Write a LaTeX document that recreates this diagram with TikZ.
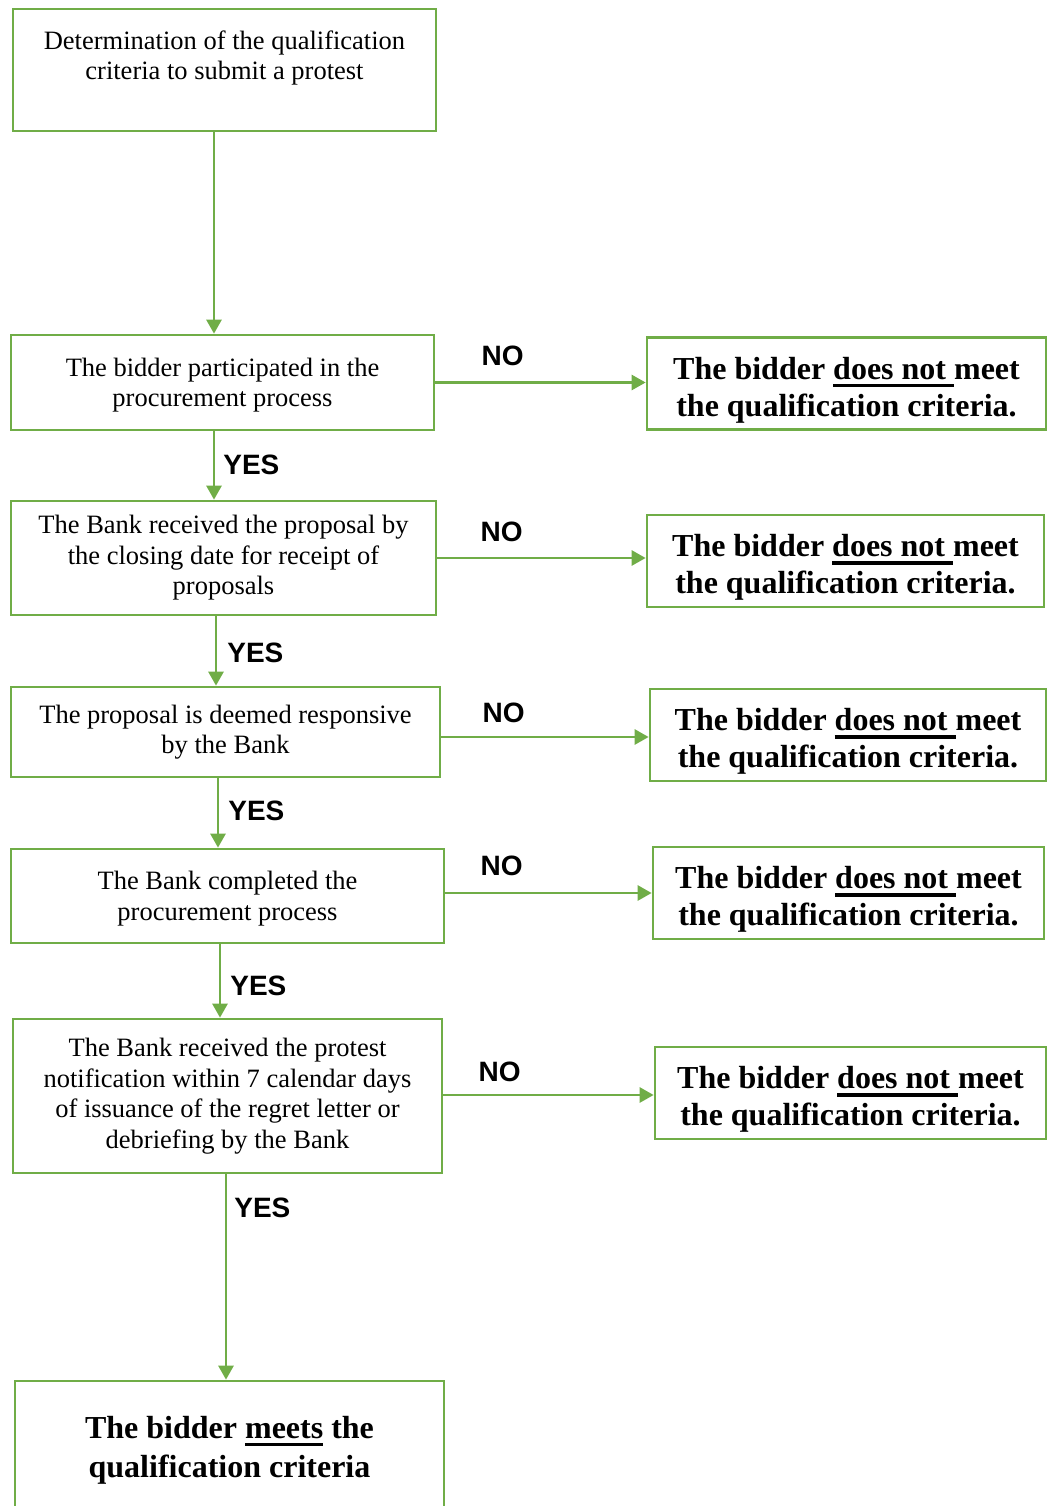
\documentclass[tikz,border=0pt]{standalone}
\usepackage{fontspec}
\setmainfont{Liberation Serif}
\newfontfamily\lblfont{Liberation Sans}
\usetikzlibrary{arrows.meta}
\definecolor{boxgreen}{RGB}{112,173,71}
\newcommand\undl[1]{\setbox0\hbox{#1}\rlap{\rule[-8pt]{\wd0}{3.5pt}}\box0\relax}
\newcommand\notmet{\rule{0pt}{35pt}The bidder \undl{does not\ }meet\\the qualification criteria.}

\begin{document}
\begin{tikzpicture}[x=1pt, y=-1pt,
	box/.style={draw=boxgreen, line width=2.7pt, align=center, inner sep=0pt,
		font=\fontsize{26.5}{30.5}\selectfont},
	nobox/.style={box, align=center, minimum width=393pt, minimum height=92pt,
		font=\fontsize{32}{37}\selectfont\bfseries},
	arr/.style={draw=boxgreen, line width=2.7pt, -{Triangle[length=14pt,width=15pt]}},
	lbl/.style={font=\fontsize{28}{30}\selectfont\lblfont\bfseries, inner sep=0pt}]
	\useasboundingbox (0,0) rectangle (1052,1506);

	\node[box, minimum width=423pt, minimum height=122pt] (b0) at (224.5,70)
		{Determination of the qualification\\criteria to submit a protest\\[-10pt]\strut};
	\node[box, minimum width=423pt, minimum height=95pt] (b1) at (222.5,382.5)
		{\rule{0pt}{24pt}The bidder participated in the\\procurement process};
	\node[box, minimum width=425pt, minimum height=114pt] (b2) at (223.5,558)
		{The Bank received the proposal by\\the closing date for receipt of\\proposals};
	\node[box, minimum width=429pt, minimum height=90pt] (b3) at (225.5,732)
		{The proposal is deemed responsive\\by the Bank};
	\node[box, minimum width=433pt, minimum height=94pt] (b4) at (227.5,896)
		{\rule{0pt}{24pt}The Bank completed the\\procurement process};
	\node[box, minimum width=429pt, minimum height=154pt] (b5) at (227.5,1096)
		{The Bank received the protest\\notification within 7 calendar days\\of issuance of the regret letter or\\debriefing by the Bank};
	\node[box, minimum width=429pt, minimum height=132pt, font=\fontsize{32}{39}\selectfont\bfseries] (b6) at (229.5,1447)
		{\rule{0pt}{28pt}The bidder \undl{meets} the\\qualification criteria};

	\node[nobox, minimum width=399pt] (r1) at (846.5,383.5) {\notmet};
	\node[nobox, minimum width=397pt] (r2) at (845.5,561) {\notmet};
	\node[nobox, minimum width=396pt] (r3) at (848,735) {\notmet};
	\node[nobox, minimum width=391pt] (r4) at (848.5,893) {\notmet};
	\node[nobox, minimum width=391pt] (r5) at (850.5,1093) {\notmet};

	% yes branch
	\draw[arr] ([xshift=-10.5pt]b0.south) -- ([xshift=-10.5pt]b0.south |- b1.north);
	\draw[arr] ([xshift=-8.5pt]b1.south) -- ([xshift=-8.5pt]b1.south |- b2.north)
		node[lbl, pos=0, anchor=north west, xshift=8pt, yshift=-22pt] {YES};
	\draw[arr] ([xshift=-7.5pt]b2.south) -- ([xshift=-7.5pt]b2.south |- b3.north)
		node[lbl, pos=0, anchor=north west, xshift=10pt, yshift=-25pt] {YES};
	\draw[arr] ([xshift=-7.5pt]b3.south) -- ([xshift=-7.5pt]b3.south |- b4.north)
		node[lbl, pos=0, anchor=north west, xshift=9pt, yshift=-21pt] {YES};
	\draw[arr] ([xshift=-7.5pt]b4.south) -- ([xshift=-7.5pt]b4.south |- b5.north)
		node[lbl, pos=0, anchor=north west, xshift=9pt, yshift=-30pt] {YES};
	\draw[arr] ([xshift=-1.5pt]b5.south) -- ([xshift=-1.5pt]b5.south |- b6.north)
		node[lbl, pos=0, anchor=north west, xshift=7pt, yshift=-22pt] {YES};

	% no branch
	\draw[arr] (b1.east) -- (b1.east -| r1.west)
		node[lbl, pos=0, anchor=south west, xshift=45pt, yshift=15pt] {NO};
	\draw[arr] (b2.east) -- (b2.east -| r2.west)
		node[lbl, pos=0, anchor=south west, xshift=42pt, yshift=15pt] {NO};
	\draw[arr] ([yshift=-5pt]b3.east) -- ([yshift=-5pt]b3.east -| r3.west)
		node[lbl, pos=0, anchor=south west, xshift=40pt, yshift=13pt] {NO};
	\draw[arr] ([yshift=3pt]b4.east) -- ([yshift=3pt]b4.east -| r4.west)
		node[lbl, pos=0, anchor=south west, xshift=34pt, yshift=16pt] {NO};
	\draw[arr] ([yshift=1pt]b5.east) -- ([yshift=1pt]b5.east -| r5.west)
		node[lbl, pos=0, anchor=south west, xshift=34pt, yshift=12pt] {NO};

\end{tikzpicture}
\end{document}
